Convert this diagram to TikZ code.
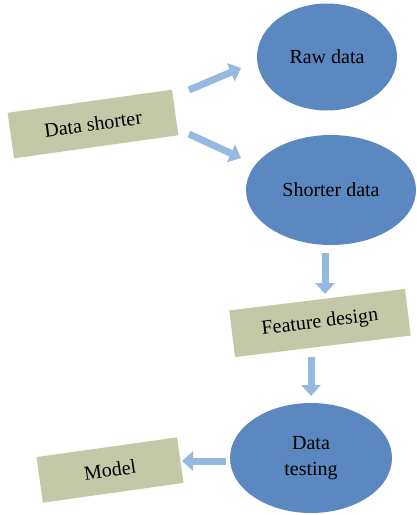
\documentclass[tikz,border=0pt]{standalone}
\usepackage{fontspec}
\setmainfont{Liberation Serif}
\usetikzlibrary{arrows.meta,shapes.geometric}
\definecolor{ellfill}{HTML}{5B88C0}
\definecolor{boxfill}{HTML}{C3C9A6}
\definecolor{arrowc}{HTML}{95B9E1}
\tikzset{
  ell/.style={ellipse, fill=ellfill, inner sep=0pt, font=\fontsize{20}{26}\selectfont, align=center},
  box/.style={rectangle, fill=boxfill, inner sep=0pt, font=\fontsize{20}{26}\selectfont},
  blockarrow/.style={draw=arrowc, line width=7pt, -{Triangle[length=11pt,width=19pt]}}
}
\begin{document}
\begin{tikzpicture}[x=1pt,y=-1pt]
\useasboundingbox (0,0) rectangle (416,515);
\node[ell, minimum width=140pt, minimum height=107pt] (raw) at (327,57) {Raw data};
\node[ell, minimum width=170pt, minimum height=110pt] (short) at (331,190) {Shorter data};
\node[ell, minimum width=162pt, minimum height=110pt] (test) at (311,458) {Data\\testing};
\node[box, rotate=8, minimum width=166pt, minimum height=46pt] (ds) at (93,124) {Data shorter};
\node[box, rotate=7, minimum width=177pt, minimum height=47pt] (fd) at (320,323) {Feature design};
\node[box, rotate=8, minimum width=142pt, minimum height=46pt] (model) at (110,470) {Model};
\coordinate (a1s) at (189,90);
\coordinate (a1e) at (241,68);
\coordinate (a2s) at (189,134);
\coordinate (a2e) at (241,158);
\coordinate (a3s) at (325,253);
\coordinate (a3e) at (325,294);
\coordinate (a4s) at (311,357);
\coordinate (a4e) at (311,396);
\coordinate (a5s) at (226,461);
\coordinate (a5e) at (182,461);
\draw[blockarrow] (a1s) -- (a1e);
\draw[blockarrow] (a2s) -- (a2e);
\draw[blockarrow] (a3s) -- (a3e);
\draw[blockarrow] (a4s) -- (a4e);
\draw[blockarrow] (a5s) -- (a5e);
\end{tikzpicture}
\end{document}
